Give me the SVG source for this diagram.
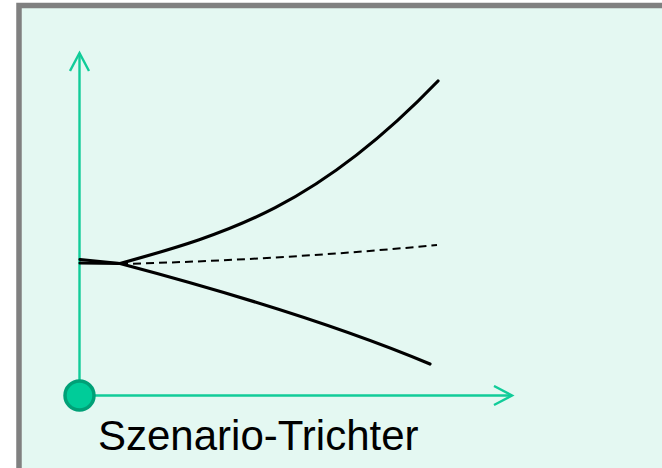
<svg xmlns="http://www.w3.org/2000/svg" width="662" height="468" viewBox="0 0 662 468">
  <defs>
    <marker id="openArrow" markerWidth="24" markerHeight="24" refX="19" refY="11" orient="auto" markerUnits="userSpaceOnUse">
      <path d="M1,1.5 L19,11 L1,20.5" fill="none" stroke="#11cc99" stroke-width="2.4"/>
    </marker>
  </defs>
  <style>
    .axis { fill: none; stroke: #11cc99; stroke-width: 2.4; }
    .curve { fill: none; stroke: #000000; stroke-width: 3.2; stroke-linecap: round; }
    .dashed { fill: none; stroke: #000000; stroke-width: 2; stroke-dasharray: 8 5; }
    .label { font-family: "Liberation Sans", Arial, sans-serif; font-size: 42px; fill: #000000; }
  </style>

  <g id="frame">
    <rect x="19" y="5.5" width="660" height="480" fill="#e4f8f2" stroke="#808080" stroke-width="5.5"/>
  </g>

  <g id="connectors">
    <path class="axis" d="M79.5,396 L79.5,53" marker-end="url(#openArrow)"/>
    <path class="axis" d="M79.5,395.5 L512,395.5" marker-end="url(#openArrow)"/>
  </g>

  <g id="origin">
    <circle cx="79.5" cy="395.5" r="14.5" fill="#00cc99" stroke="#00a077" stroke-width="3.5"/>
  </g>

  <g id="curves">
    <path id="upper" class="curve" d="M80,259.5 L120,263.5 C230,233 318,205.8 438,81"/>
    <path id="lower" class="curve" d="M80,263 L120,263.5 C220,290 330,322 430,364"/>
    <path id="middle" class="dashed" d="M120,264 Q280,260 437,245"/>
  </g>

  <g id="title">
    <text class="label" x="98" y="450">Szenario-Trichter</text>
  </g>
</svg>
